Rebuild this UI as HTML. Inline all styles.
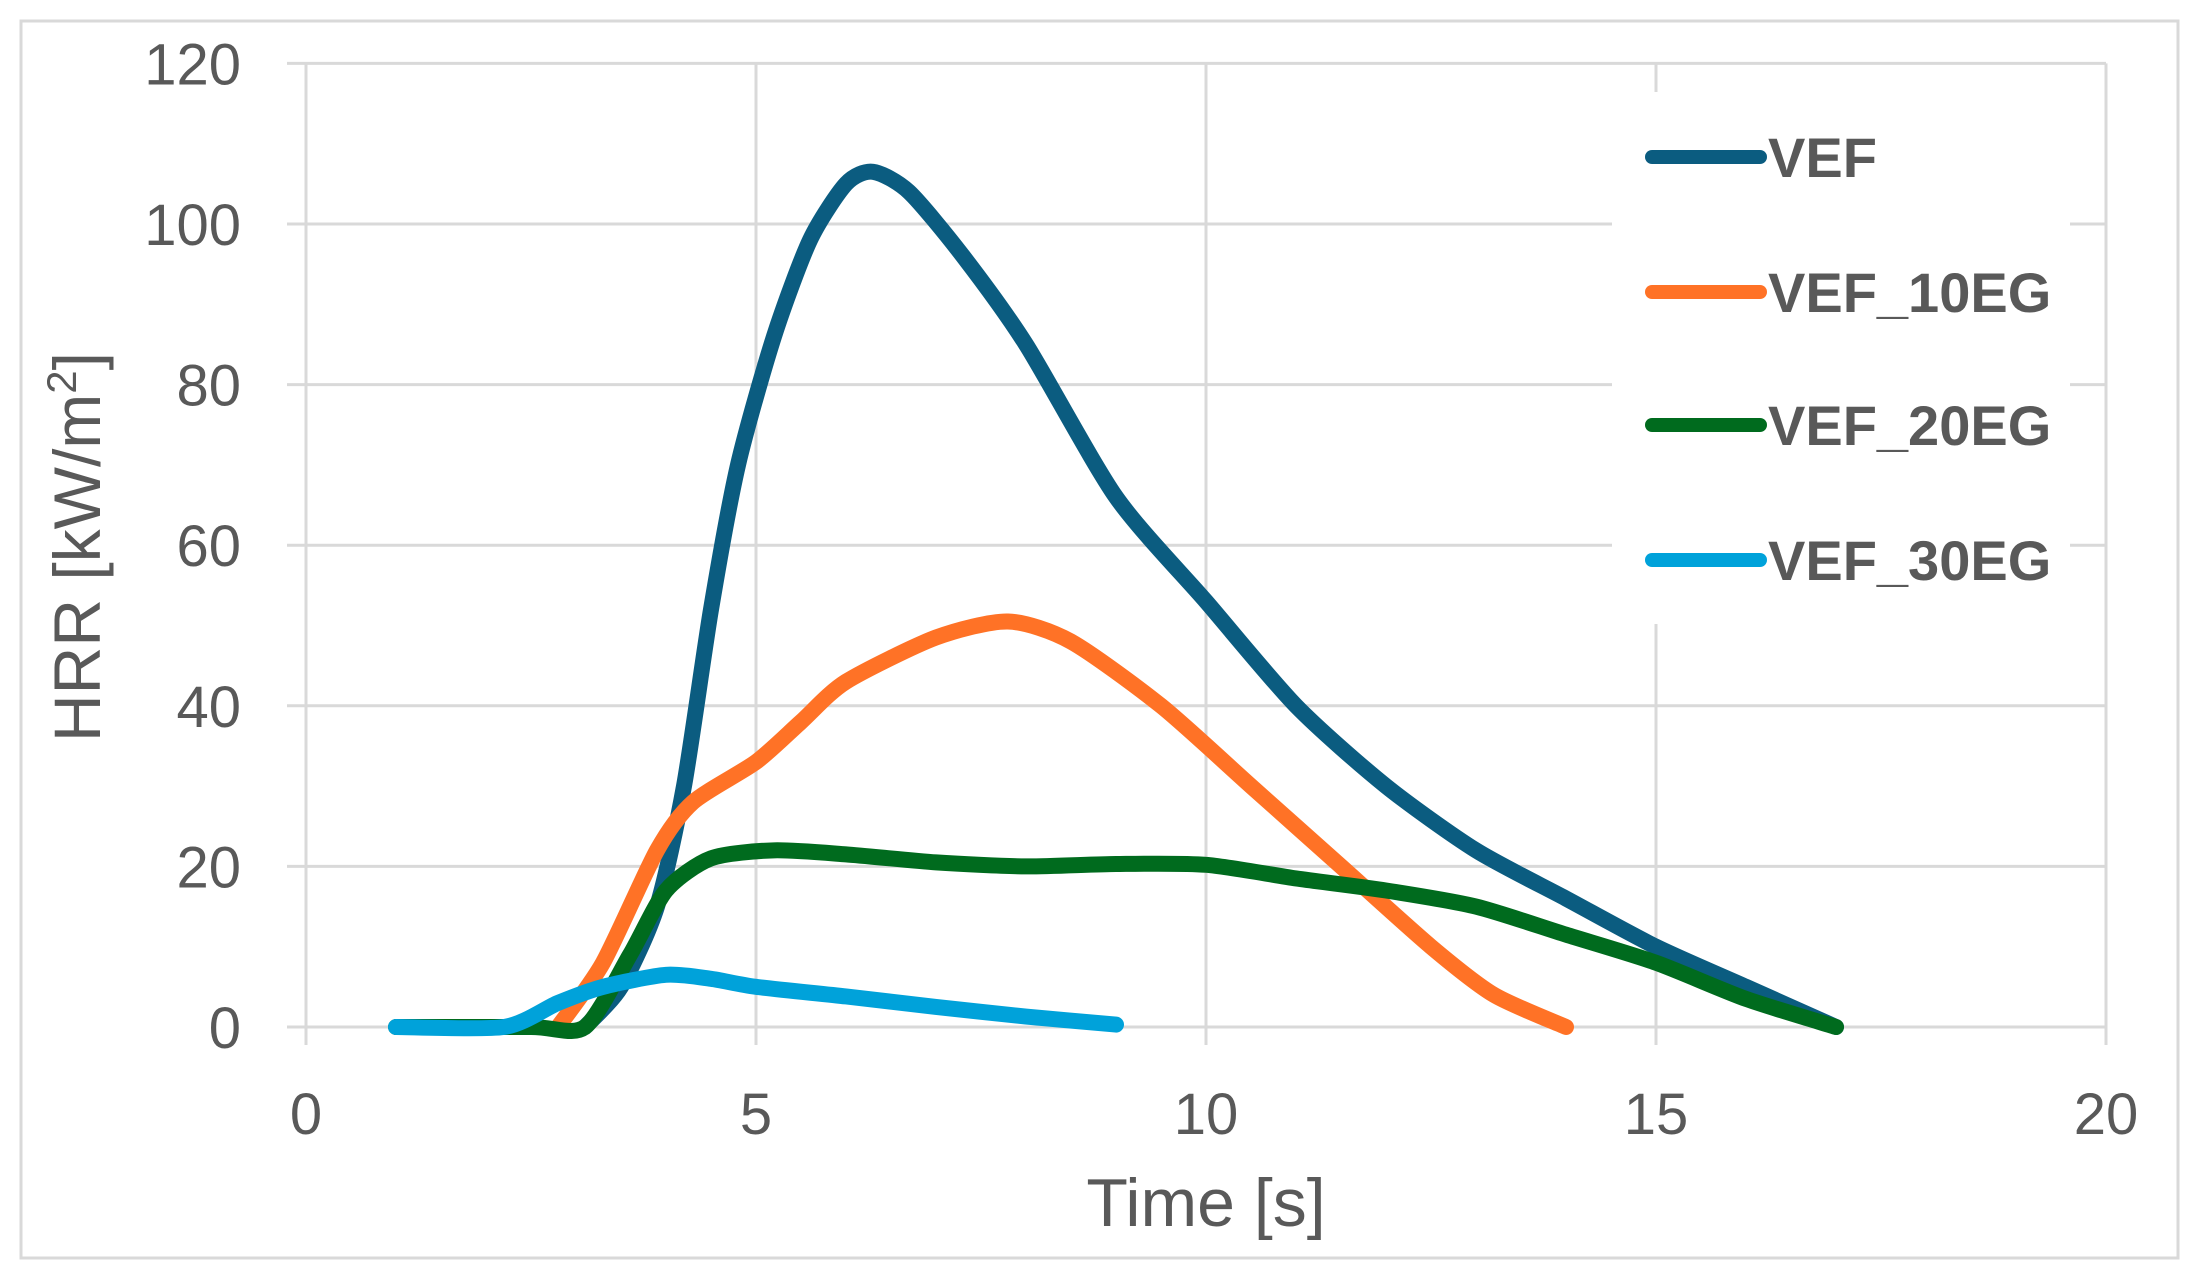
<!DOCTYPE html>
<html><head><meta charset="utf-8"><style>
html,body{margin:0;padding:0;background:#fff;}
svg{display:block;font-family:"Liberation Sans",sans-serif;}
</style></head><body>
<svg id="s" width="2199" height="1280" viewBox="0 0 2199 1280" xmlns="http://www.w3.org/2000/svg">
<rect x="21" y="21" width="2157" height="1237" fill="#fff" stroke="#d9d9d9" stroke-width="3"/>
<g id="grid" stroke="#d9d9d9" stroke-width="3"></g>
<g id="labels" fill="#595959" font-size="58"></g>
<text x="0" y="0" transform="translate(100,547) rotate(-90)" text-anchor="middle" font-size="66" fill="#595959">HRR [kW/m<tspan dy="-24" font-size="42">2</tspan><tspan dy="24">]</tspan></text>
<text x="1206" y="1226" text-anchor="middle" font-size="68" fill="#595959">Time [s]</text>
<g id="series" fill="none" stroke-width="16" stroke-linecap="round" stroke-linejoin="round"></g>
<rect x="1612" y="92" width="458" height="532" fill="#fff"/>
<g font-size="56" font-weight="bold" fill="#595959" stroke-linecap="round" stroke-width="14">
<line x1="1652" y1="157" x2="1760" y2="157" stroke="#0b5c80"/><text x="1768" y="177">VEF</text>
<line x1="1652" y1="292" x2="1760" y2="292" stroke="#ff7226"/><text x="1768" y="312">VEF_10EG</text>
<line x1="1652" y1="425" x2="1760" y2="425" stroke="#006b1e"/><text x="1768" y="445">VEF_20EG</text>
<line x1="1652" y1="560" x2="1760" y2="560" stroke="#00a2da"/><text x="1768" y="580">VEF_30EG</text>
</g>
</svg>
<script>
const NS="http://www.w3.org/2000/svg";
const X=t=>306+90*t, Y=v=>1027-8.03*v;
function el(p,tag,a,txt){const e=document.createElementNS(NS,tag);for(const k in a)e.setAttribute(k,a[k]);if(txt!==undefined)e.textContent=txt;p.appendChild(e);return e;}
const g=document.getElementById('grid'),L=document.getElementById('labels');
for(let v=0;v<=120;v+=20){el(g,'line',{x1:287,x2:2106,y1:Y(v),y2:Y(v)});el(L,'text',{x:241,y:Y(v)+21,'text-anchor':'end'},v);}
for(let t=0;t<=20;t+=5){el(g,'line',{x1:X(t),x2:X(t),y1:Y(120),y2:Y(0)+18});el(L,'text',{x:X(t),y:1134,'text-anchor':'middle'},t);}
const data={
"#0b5c80":[[3.1,0],[3.5,5],[3.9,15],[4.2,30],[4.5,52],[4.8,70],[5.2,86],[5.6,98],[6,105],[6.3,106.5],[6.7,104],[7.3,96],[8,85],[9,66],[10,53],[11,40],[12,30],[13,22],[14,16],[15,10],[16,5],[17,0]],
"#ff7226":[[2.8,0],[3.3,8],[3.9,22],[4.3,28],[5,33],[5.5,38],[6,43],[7,48.5],[7.8,50.5],[8.5,48],[9.5,40],[10.5,30],[11.5,20],[12.5,10],[13.2,4],[14,0]],
"#006b1e":[[1,0],[2.5,0],[3.1,0],[3.6,9],[4,17],[4.5,21],[5.2,22],[6,21.5],[7,20.5],[8,20],[9,20.3],[10,20.2],[11,18.5],[12,17],[13,15],[14,11.5],[15,8],[16,3.5],[17,0]],
"#00a2da":[[1,0],[2.2,0],[2.8,3],[3.3,5],[4,6.5],[4.5,6],[5,5],[6,3.8],[7,2.5],[8,1.3],[9,0.3]]};
const S=document.getElementById('series');
for(const c in data){const p=data[c].map(([t,v])=>[X(t),Y(v)]);let d="M"+p[0];
for(let i=0;i<p.length-1;i++){const a=p[Math.max(i-1,0)],b=p[i],e=p[i+1],f=p[Math.min(i+2,p.length-1)];
d+=` C${b[0]+(e[0]-a[0])/8},${b[1]+(e[1]-a[1])/8} ${e[0]-(f[0]-b[0])/8},${e[1]-(f[1]-b[1])/8} ${e[0]},${e[1]}`;}
el(S,'path',{d:d,stroke:c});}
</script>
</body></html>
